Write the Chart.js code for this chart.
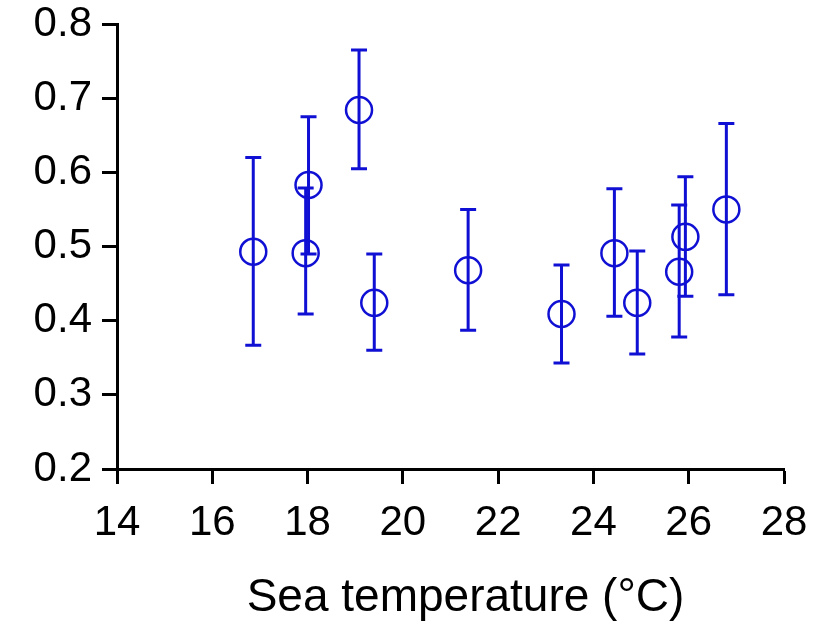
<!DOCTYPE html>
<html>
<head>
<meta charset="utf-8">
<script src="https://cdn.jsdelivr.net/npm/chart.js@4"></script>
<style>
  body { margin: 0; background: #fff; }
  canvas { display: block; }
</style>
</head>
<body>
<canvas id="grafico" width="819" height="623"></canvas>
<script>
// sea temperature (°C) and the mean with its lower / upper error limits
const temperaturas = [16.86, 17.96, 18.02, 19.08, 19.40, 21.37, 23.33, 24.44, 24.92, 25.80, 25.93, 26.79];
const medias = [0.493, 0.491, 0.583, 0.684, 0.424, 0.468, 0.409, 0.491, 0.424, 0.466, 0.513, 0.550];
const limiteInferior = [0.367, 0.409, 0.490, 0.605, 0.360, 0.387, 0.343, 0.406, 0.355, 0.378, 0.433, 0.435];
const limiteSuperior = [0.620, 0.579, 0.675, 0.765, 0.490, 0.550, 0.475, 0.578, 0.494, 0.556, 0.594, 0.666];

const xTicks = [14, 16, 18, 20, 22, 24, 26, 28];
const yTicks = [0.2, 0.3, 0.4, 0.5, 0.6, 0.7, 0.8];
const tituloX = "Sea temperature (°C)";

const AZUL = "#1010d4";
const FONTE = "'Liberation Sans', Arial, sans-serif";

// vertical error bars with caps, drawn through the chart's own scales
const barrasErro = {
  id: "barrasErro",
  beforeDatasetsDraw(chart) {
    const { ctx, scales } = chart;
    const x = scales.x;
    const y = scales.y;
    ctx.save();
    ctx.strokeStyle = AZUL;
    ctx.lineWidth = 3;
    temperaturas.forEach((t, i) => {
      const px = x.getPixelForValue(t);
      const pTop = y.getPixelForValue(limiteSuperior[i]);
      const pBot = y.getPixelForValue(limiteInferior[i]);
      ctx.beginPath();
      ctx.moveTo(px, pTop);
      ctx.lineTo(px, pBot);
      ctx.moveTo(px - 8, pTop);
      ctx.lineTo(px + 8, pTop);
      ctx.moveTo(px - 8, pBot);
      ctx.lineTo(px + 8, pBot);
      ctx.stroke();
    });
    ctx.restore();
  },
};

// x axis title, a bit to the right of the axis centre
const tituloEixoX = {
  id: "tituloEixoX",
  afterDraw(chart) {
    const { ctx, scales } = chart;
    const x = scales.x;
    ctx.save();
    ctx.fillStyle = "#000";
    ctx.font = "46px " + FONTE;
    ctx.textAlign = "center";
    ctx.textBaseline = "middle";
    ctx.fillText(tituloX, (x.left + x.right) / 2 + 15, 598);
    ctx.restore();
  },
};

const pontos = temperaturas.map((t, i) => ({ x: t, y: medias[i] }));

const ctx = document.getElementById("grafico").getContext("2d");
const grafico = new Chart(ctx, {
  type: "scatter",
  data: {
    datasets: [
      {
        data: pontos,
        pointStyle: "circle",
        pointRadius: 13,
        pointHoverRadius: 13,
        borderWidth: 2.5,
        borderColor: AZUL,
        backgroundColor: "rgba(0,0,0,0)",
      },
    ],
  },
  options: {
    responsive: false,
    animation: false,
    layout: {
      padding: { top: 24, right: 35, left: 0, bottom: 0 },
    },
    plugins: {
      legend: { display: false },
      tooltip: { enabled: false },
    },
    scales: {
      x: {
        type: "linear",
        min: xTicks[0],
        max: xTicks[xTicks.length - 1],
        afterBuildTicks: (scale) => {
          scale.ticks = xTicks.map((v) => ({ value: v }));
        },
        afterFit: (scale) => {
          scale.height = 154;
          scale.paddingLeft = 0;
          scale.paddingRight = 0;
        },
        grid: {
          drawOnChartArea: false,
          tickLength: 15,
          tickWidth: 3,
          tickColor: "#000",
        },
        border: { color: "#000", width: 3 },
        ticks: {
          color: "#000",
          padding: 14,
          maxRotation: 0,
          font: { family: FONTE, size: 42 },
        },
      },
      y: {
        type: "linear",
        min: yTicks[0],
        max: yTicks[yTicks.length - 1],
        afterBuildTicks: (scale) => {
          scale.ticks = yTicks.map((v) => ({ value: v }));
        },
        afterFit: (scale) => {
          scale.width = 117;
          scale.paddingTop = 0;
          scale.paddingBottom = 0;
        },
        grid: {
          drawOnChartArea: false,
          tickLength: 15,
          tickWidth: 3,
          tickColor: "#000",
        },
        border: { color: "#000", width: 3 },
        ticks: {
          color: "#000",
          padding: 10,
          callback: (v) => v.toFixed(1),
          font: { family: FONTE, size: 42 },
        },
      },
    },
  },
  plugins: [barrasErro, tituloEixoX],
});
</script>
</body>
</html>
